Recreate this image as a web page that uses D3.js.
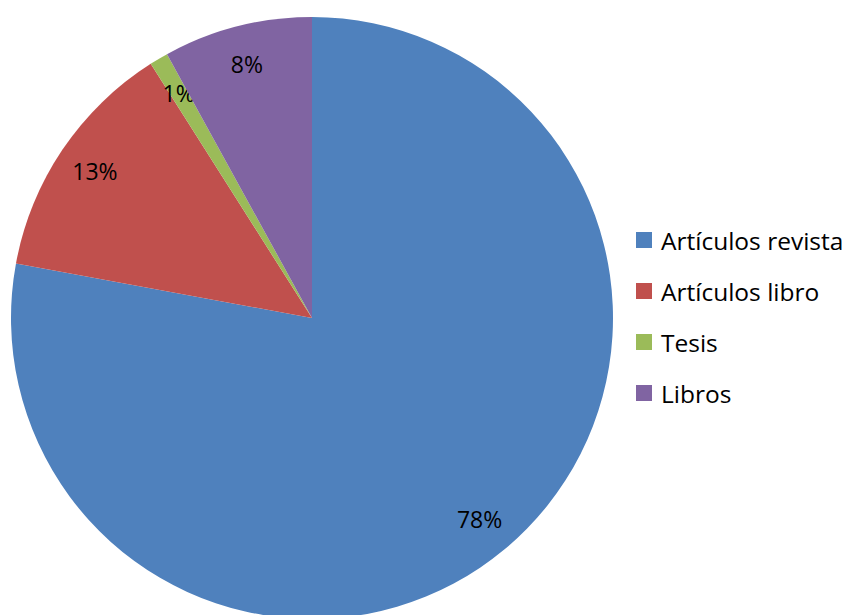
<!DOCTYPE html>
<html>
<head>
<meta charset="utf-8">
<script src="https://cdn.jsdelivr.net/npm/d3@7"></script>
<style>
  body { margin: 0; background: #fff; }
  svg text { font-family: "Open Sans", "Liberation Sans", sans-serif; fill: #000; }
</style>
</head>
<body>
<svg id="chart"></svg>
<script>
// 数据
const categories = ["Artículos revista", "Artículos libro", "Tesis", "Libros"];
const values = [77.9, 13.1, 1.0, 8.0];
const colors = ["#4F81BD", "#C0504D", "#9BBB59", "#8064A2"];

const width = 854, height = 615;
const cx = 312, cy = 318, radius = 301;

const svg = d3.select("#chart")
    .attr("width", width)
    .attr("height", height);

const total = d3.sum(values);
const data = categories.map((c, i) => ({ name: c, value: values[i], color: colors[i] }));

// 饼图
const pie = d3.pie().sort(null).value(d => d.value);
const arc = d3.arc().innerRadius(0).outerRadius(radius);
const labelArc = d3.arc().innerRadius(radius * 0.87).outerRadius(radius * 0.87);

const g = svg.append("g").attr("transform", `translate(${cx},${cy})`);

const slices = g.selectAll(".slice")
    .data(pie(data))
    .enter()
    .append("g")
    .attr("class", "slice");

slices.append("path")
    .attr("d", arc)
    .style("fill", d => d.data.color);

slices.append("text")
    .attr("transform", d => `translate(${labelArc.centroid(d)})`)
    .attr("text-anchor", "middle")
    .attr("dominant-baseline", "central")
    .style("font-size", "23px")
    .text(d => `${Math.round(d.data.value / total * 100)}%`);

// 图例
const legend = svg.append("g").attr("transform", "translate(636,232)");
const items = legend.selectAll(".item")
    .data(data)
    .enter()
    .append("g")
    .attr("class", "item")
    .attr("transform", (d, i) => `translate(0,${i * 51})`);

items.append("rect")
    .attr("width", 16)
    .attr("height", 16)
    .style("fill", d => d.color);

items.append("text")
    .attr("x", 25)
    .attr("y", 8)
    .attr("dominant-baseline", "central")
    .style("font-size", "24.5px")
    .text(d => d.name);
</script>
</body>
</html>
